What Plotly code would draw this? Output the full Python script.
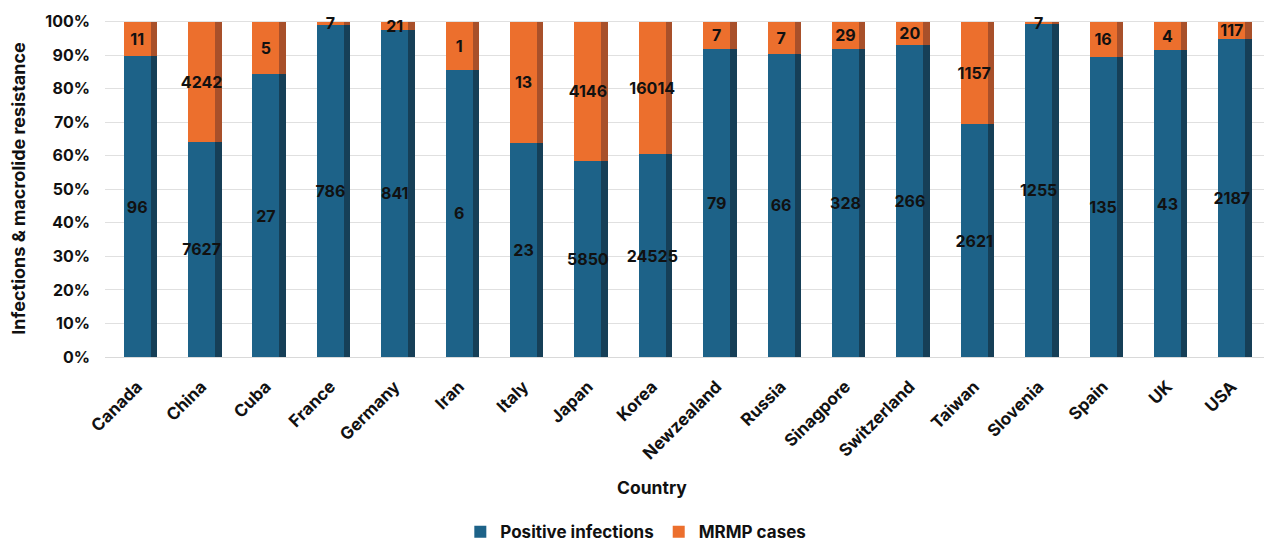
import plotly.graph_objects as go

countries = ["Canada", "China", "Cuba", "France", "Germany", "Iran", "Italy", "Japan", "Korea",
             "Newzealand", "Russia", "Sinagpore", "Switzerland", "Taiwan", "Slovenia", "Spain", "UK", "USA"]
positive = [96, 7627, 27, 786, 841, 6, 23, 5850, 24525, 79, 66, 328, 266, 2621, 1255, 135, 43, 2187]
mrmp = [11, 4242, 5, 7, 21, 1, 13, 4146, 16014, 7, 7, 29, 20, 1157, 7, 16, 4, 117]
y_ticks = [0, 10, 20, 30, 40, 50, 60, 70, 80, 90, 100]
y_tick_labels = ["0%", "10%", "20%", "30%", "40%", "50%", "60%", "70%", "80%", "90%", "100%"]

FONT = "Inter, Liberation Sans, Arial, sans-serif"
INK = "#111111"
BLUE = "#1d6288"
BLUE_SIDE = "#163f57"
ORANGE = "#ec6f2d"
ORANGE_SIDE = "#a8502a"

fig = go.Figure()

# side faces (pseudo-3D) on the base axis; the front faces sit on an overlaid axis drawn on top
fig.add_trace(go.Bar(x=countries, y=positive, marker=dict(color=BLUE_SIDE, line=dict(width=0)),
                     offset=0.21, width=0.1, showlegend=False, hoverinfo="skip"))
fig.add_trace(go.Bar(x=countries, y=mrmp, marker=dict(color=ORANGE_SIDE, line=dict(width=0)),
                     offset=0.21, width=0.1, showlegend=False, hoverinfo="skip"))

txtfont = dict(family=FONT, size=16, color=INK, weight="bold")
fig.add_trace(go.Bar(x=countries, y=positive, name="Positive infections", xaxis="x2",
                     marker=dict(color=BLUE, line=dict(width=0)),
                     offset=-0.21, width=0.42, cliponaxis=False,
                     text=[str(v) for v in positive], textposition="inside", textangle=0,
                     insidetextanchor="middle", constraintext="none", textfont=txtfont))
fig.add_trace(go.Bar(x=countries, y=mrmp, name="MRMP cases", xaxis="x2",
                     marker=dict(color=ORANGE, line=dict(width=0)),
                     offset=-0.21, width=0.42, cliponaxis=False,
                     text=[str(v) for v in mrmp], textposition="inside", textangle=0,
                     insidetextanchor="middle", constraintext="none", textfont=txtfont))

fig.update_layout(
    width=1284, height=543,
    barmode="stack", barnorm="percent",
    paper_bgcolor="white", plot_bgcolor="white",
    margin=dict(l=105, r=20, t=20, b=186, autoexpand=False),
    uniformtext=dict(minsize=16, mode="show"),
    font=dict(family=FONT, color=INK),
    xaxis=dict(categoryorder="array", categoryarray=countries, tickangle=-45, automargin=False,
               tickfont=dict(family=FONT, size=17, color=INK, weight="bold"),
               ticklabelstandoff=12,
               showline=True, linecolor="#d9d9d9", ticks="", range=[-0.5, 17.5]),
    xaxis2=dict(overlaying="x", matches="x", visible=False, categoryorder="array",
                categoryarray=countries),
    yaxis=dict(range=[0, 100.5], tickvals=y_ticks, ticktext=y_tick_labels, automargin=False,
               tickfont=dict(family=FONT, size=16, color=INK, weight="bold"),
               ticklabelstandoff=14,
               showgrid=True, gridcolor="#e0e0e0", zeroline=False,
               title=dict(text="Infections & macrolide resistance",
                          font=dict(family=FONT, size=18, color=INK, weight="bold"), standoff=14)),
    annotations=[dict(text="Country", xref="paper", yref="paper", x=0.472, y=-0.386,
                      xanchor="center", yanchor="middle", showarrow=False,
                      font=dict(family=FONT, size=17.5, color=INK, weight="bold"))],
    legend=dict(orientation="h", x=0.458, xanchor="center", yref="paper", y=-0.52, yanchor="middle",
                font=dict(family=FONT, size=17, color=INK, weight="bold"),
                traceorder="normal", itemwidth=30),
)

fig.write_html("out.html")
